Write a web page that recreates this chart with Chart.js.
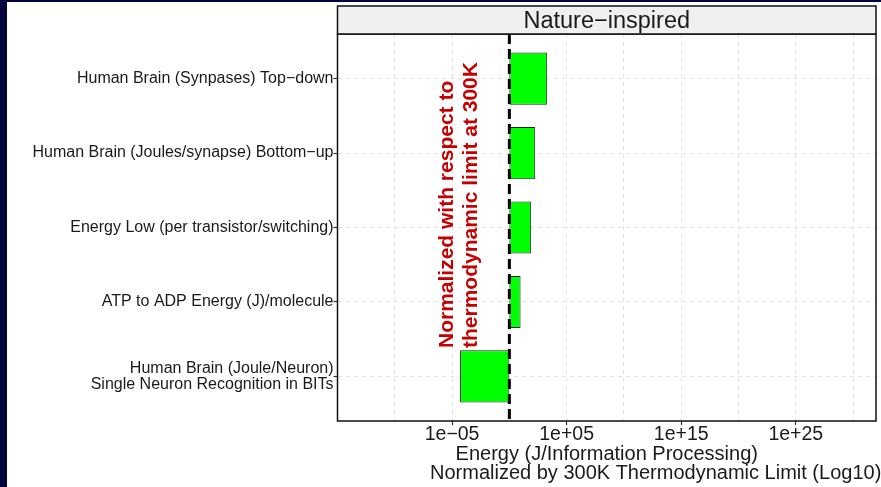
<!DOCTYPE html>
<html>
<head>
<meta charset="utf-8">
<script src="https://cdn.jsdelivr.net/npm/chart.js@4.4.0/dist/chart.umd.min.js"></script>
<style>
  html, body { margin: 0; padding: 0; background: #fff; }
  #wrap { width: 881px; height: 487px; }
</style>
</head>
<body>
<div id="wrap"><canvas id="chart" width="881" height="487"></canvas></div>
<script>
const categories = [
  'Human Brain (Synpases) Top−down',
  'Human Brain (Joules/synapse) Bottom−up',
  'Energy Low (per transistor/switching)',
  'ATP to ADP Energy (J)/molecule',
  ['Human Brain (Joule/Neuron)', 'Single Neuron Recognition in BITs']
];
// energy normalized by the 300K thermodynamic limit, bars grow from 1
const energyValues = [2000, 180, 80, 9.5, 5e-5];
const baseValue = 1;
const xTickValues = [1e-5, 1e5, 1e15, 1e25];
const xTickLabels = ['1e−05', '1e+05', '1e+15', '1e+25'];
const xMinorValues = [1e-10, 1, 1e10, 1e20, 1e30];
const panelTitle = 'Nature−inspired';
const xTitleLines = ['Energy (J/Information Processing)', 'Normalized by 300K Thermodynamic Limit (Log10)'];
const noteLines = ['Normalized with respect to', 'thermodynamic limit at 300K'];

const FONT = "'Liberation Sans', Arial, Helvetica, sans-serif";
const gridColor = '#E3E3E3';
const textColor = '#1a1a1a';

const decorations = {
  id: 'decorations',
  beforeDraw(chart) {
    const ctx = chart.ctx;
    ctx.save();
    ctx.fillStyle = '#fff';
    ctx.fillRect(0, 0, chart.width, chart.height);
    ctx.fillStyle = '#03033b';
    ctx.fillRect(0, 0, 7, chart.height);
    ctx.fillRect(0, 0, chart.width, 2);
    ctx.restore();
  },
  afterDatasetsDraw(chart) {
    const { ctx, chartArea: a, scales: { x } } = chart;
    const px = x.getPixelForValue(baseValue);
    // thermodynamic limit line
    ctx.save();
    ctx.strokeStyle = '#000';
    ctx.lineWidth = 3;
    ctx.setLineDash([10, 5]);
    ctx.beginPath();
    ctx.moveTo(px, a.top);
    ctx.lineTo(px, a.bottom);
    ctx.stroke();
    ctx.restore();
    // rotated red note
    ctx.save();
    ctx.fillStyle = '#C40000';
    ctx.font = 'bold 21px ' + FONT;
    ctx.textAlign = 'left';
    ctx.textBaseline = 'alphabetic';
    noteLines.forEach((t, i) => {
      ctx.save();
      ctx.translate(px - 56.5 + i * 24, 348);
      ctx.rotate(-Math.PI / 2);
      ctx.fillText(t, 0, 0);
      ctx.restore();
    });
    ctx.restore();
  },
  afterDraw(chart) {
    const { ctx, chartArea: a } = chart;
    ctx.save();
    // panel border
    ctx.strokeStyle = '#111';
    ctx.lineWidth = 1.5;
    ctx.strokeRect(a.left, a.top, a.right - a.left, a.bottom - a.top);
    // facet strip
    ctx.fillStyle = '#F0F0F0';
    ctx.fillRect(a.left, 6, a.right - a.left, a.top - 6);
    ctx.strokeRect(a.left, 6, a.right - a.left, a.top - 6);
    ctx.fillStyle = textColor;
    ctx.font = '23.5px ' + FONT;
    ctx.textAlign = 'center';
    ctx.textBaseline = 'alphabetic';
    ctx.fillText(panelTitle, (a.left + a.right) / 2, 28);
    // axis title, two lines
    ctx.font = '20px ' + FONT;
    ctx.fillText(xTitleLines[0], (a.left + a.right) / 2, 459.5);
    ctx.textAlign = 'left';
    ctx.fillText(xTitleLines[1], 430, 478.5);
    ctx.restore();
  }
};

new Chart(document.getElementById('chart'), {
  type: 'bar',
  data: {
    datasets: [{
      data: energyValues.map((v, i) => ({ x: [baseValue, v], y: i })),
      backgroundColor: '#00FF00',
      borderColor: '#222',
      borderWidth: 1,
      borderSkipped: false,
      barPercentage: 0.7,
      categoryPercentage: 1
    }]
  },
  options: {
    responsive: false,
    animation: false,
    devicePixelRatio: 1,
    indexAxis: 'y',
    layout: { padding: { left: 8, top: 34, right: 5, bottom: 0 } },
    plugins: { legend: { display: false }, tooltip: { enabled: false } },
    scales: {
      x: {
        type: 'logarithmic',
        min: 1e-15,
        max: 1e32,
        afterBuildTicks: s => {
          s.ticks = [...xMinorValues, ...xTickValues].sort((p, q) => p - q).map(v => ({ value: v }));
        },
        afterFit: s => { s.height = 66; },
        ticks: {
          autoSkip: false, maxRotation: 0, minRotation: 0, padding: 0,
          color: textColor,
          font: { family: FONT, size: 19.5, lineHeight: 1 },
          callback: v => {
            const i = xTickValues.indexOf(v);
            return i >= 0 ? xTickLabels[i] : '';
          }
        },
        grid: {
          color: gridColor, lineWidth: 1, tickLength: 4, tickWidth: 1.2,
          tickColor: c => (c.tick && xTickValues.includes(c.tick.value)) ? '#333' : 'rgba(0,0,0,0)',
          tickBorderDash: []
        },
        border: { display: false, dash: [4, 4] }
      },
      y: {
        type: 'linear',
        reverse: true,
        offset: false,
        min: -0.6,
        max: 4.6,
        afterBuildTicks: s => { s.ticks = categories.map((c, i) => ({ value: i })); },
        afterFit: s => { s.width = 329.5; },
        ticks: {
          autoSkip: false, padding: 0,
          color: textColor,
          font: { family: FONT, size: 16, lineHeight: 1 },
          callback: v => categories[v]
        },
        grid: { offset: false, color: gridColor, lineWidth: 1, tickLength: 4, tickWidth: 1.2, tickColor: '#333', tickBorderDash: [] },
        border: { display: false, dash: [4, 4] }
      }
    }
  },
  plugins: [decorations]
});
</script>
</body>
</html>
